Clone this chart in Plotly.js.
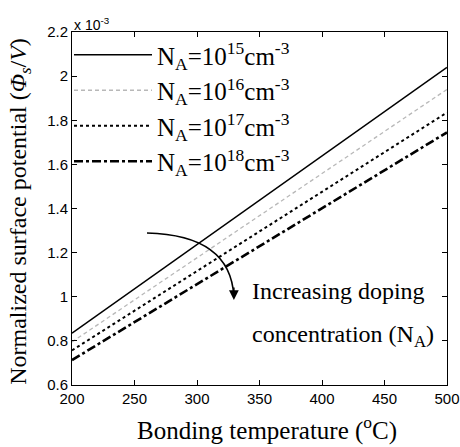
<!DOCTYPE html>
<html>
<head>
<meta charset="utf-8">
<script src="https://cdn.plot.ly/plotly-3.0.1.min.js"></script>
<style>html,body{margin:0;padding:0;background:#fff;}#chart{width:460px;height:447px;}</style>
</head>
<body>
<div id="chart"></div>
<script>
// Bonding temperature (°C)
const temperature = [200, 500];
// Normalized surface potential (x 10^-3)
const na15 = [0.835, 2.04];
const na16 = [0.795, 1.94];
const na17 = [0.757, 1.835];
const na18 = [0.713, 1.745];
const seriesNames = [
  'N<sub>A</sub>=10<sup>15</sup>cm<sup>-3</sup>',
  'N<sub>A</sub>=10<sup>16</sup>cm<sup>-3</sup>',
  'N<sub>A</sub>=10<sup>17</sup>cm<sup>-3</sup>',
  'N<sub>A</sub>=10<sup>18</sup>cm<sup>-3</sup>'
];
const xTicks = [200, 250, 300, 350, 400, 450, 500];
const yTicks = [0.6, 0.8, 1, 1.2, 1.4, 1.6, 1.8, 2, 2.2];
const yTickText = ['0.6', '0.8', '1', '1.2', '1.4', '1.6', '1.8', '2', '2.2'];
const xTitle = 'Bonding temperature (<sup>o</sup>C)';
const yTitle = 'Normalized surface potential (<i>Φ<sub>s</sub></i>/<i>V</i>)';

const serif = 'Liberation Serif, Times New Roman, serif';
const sans = 'Liberation Sans, Arial, sans-serif';

const traces = [
  {x: temperature, y: na15, name: seriesNames[0], mode: 'lines', line: {color: '#000', width: 1.6, dash: 'solid'}},
  {x: temperature, y: na16, name: seriesNames[1], mode: 'lines', line: {color: '#b8b8b8', width: 1.3, dash: '4px,3px'}},
  {x: temperature, y: na17, name: seriesNames[2], mode: 'lines', line: {color: '#000', width: 2, dash: 'dot'}},
  {x: temperature, y: na18, name: seriesNames[3], mode: 'lines', line: {color: '#000', width: 2.6, dash: 'dashdot'}}
];

const axisCommon = {
  showgrid: false, zeroline: false, showline: true, linecolor: '#000', linewidth: 1,
  mirror: 'ticks', ticks: 'inside', ticklen: 5, tickcolor: '#000',
  tickfont: {family: sans, size: 15, color: '#000'}, ticklabeloverflow: 'allow'
};

const layout = {
  width: 460, height: 447,
  margin: {l: 72, r: 13, t: 32, b: 62},
  paper_bgcolor: '#fff', plot_bgcolor: '#fff',
  showlegend: true,
  legend: {
    x: -0.008, y: 1.0, xanchor: 'left', yanchor: 'top',
    bgcolor: 'rgba(0,0,0,0)', borderwidth: 0,
    font: {family: serif, size: 25, color: '#000'},
    itemwidth: 78, tracegroupgap: 0
  },
  xaxis: Object.assign({}, axisCommon, {
    range: [200, 500], tickvals: xTicks, ticktext: xTicks.map(String)
  }),
  yaxis: Object.assign({}, axisCommon, {
    range: [0.6, 2.2], tickvals: yTicks, ticktext: yTickText, ticklabelstandoff: 0
  }),
  annotations: [
    {xref: 'paper', yref: 'paper', x: 0.52, y: -0.122, xanchor: 'center', yanchor: 'middle', showarrow: false,
     text: xTitle, font: {family: serif, size: 25, color: '#000'}},
    {xref: 'paper', yref: 'paper', x: -0.139, y: 0.493, xanchor: 'center', yanchor: 'middle', showarrow: false,
     textangle: -90, text: yTitle, font: {family: serif, size: 24, color: '#000'}},
    {xref: 'paper', yref: 'paper', x: 0, y: 1, xanchor: 'left', yanchor: 'bottom', showarrow: false,
     text: 'x 10<sup>-3</sup>', font: {family: sans, size: 14, color: '#000'}, yshift: -3},
    {xref: 'x', yref: 'y', x: 342, y: 1.027, xanchor: 'left', yanchor: 'middle', showarrow: false,
     text: 'Increasing doping', font: {family: serif, size: 24, color: '#000'}},
    {xref: 'x', yref: 'y', x: 342, y: 0.824, xanchor: 'left', yanchor: 'middle', showarrow: false,
     text: 'concentration (N<sub>A</sub>)', font: {family: serif, size: 24, color: '#000'}},
    {xref: 'x', yref: 'y', x: 329.5, y: 0.985, text: '', showarrow: true, axref: 'pixel', ayref: 'pixel',
     ax: 0, ay: -14, arrowhead: 2, arrowsize: 1.3, arrowwidth: 1.5, arrowcolor: '#000'}
  ],
  shapes: [
    {type: 'path', xref: 'x', yref: 'y', path: 'M 260 1.289 Q 327 1.28 329.5 1.0', line: {color: '#000', width: 1.6}}
  ]
};

Plotly.newPlot('chart', traces, layout, {displayModeBar: false, staticPlot: true});
</script>
</body>
</html>
